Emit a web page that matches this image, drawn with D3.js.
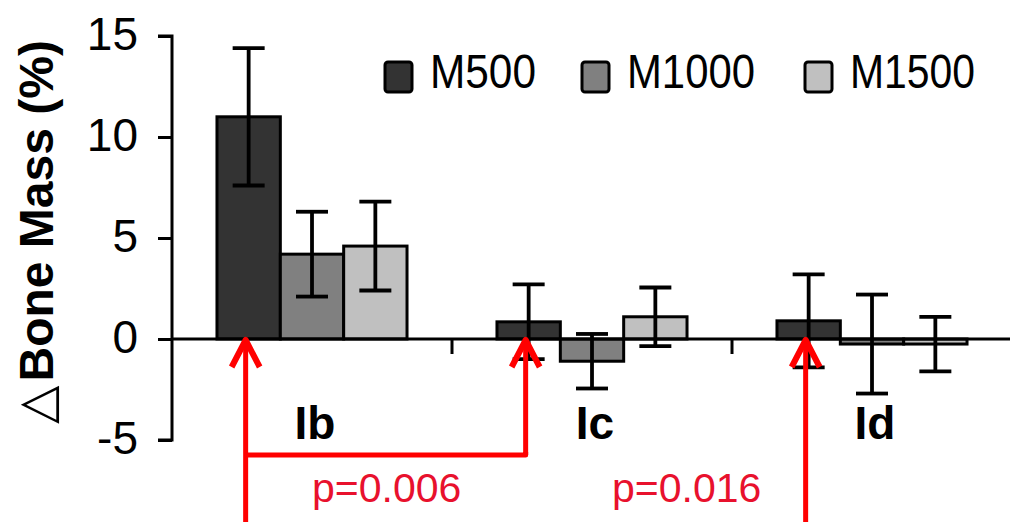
<!DOCTYPE html>
<html>
<head>
<meta charset="utf-8">
<script src="https://cdn.jsdelivr.net/npm/d3@7"></script>
<style>
  body { margin: 0; background: #fff; }
  svg { display: block; font-family: "Liberation Sans", Arial, sans-serif; }
</style>
</head>
<body>
<svg id="chart" width="1010" height="522"></svg>
<script>
// groups and series
var groups = ["Ib", "Ic", "Id"];
var series = ["M500", "M1000", "M1500"];
var colors = ["#333333", "#808080", "#c0c0c0"];

// mean change per group, one array per series
var m500  = [11.0, 0.85, 0.9];
var m1000 = [4.2, -1.1, -0.25];
var m1500 = [4.6, 1.1, -0.25];

// error bar half lengths
var e500  = [3.4, 1.85, 2.3];
var e1000 = [2.1, 1.35, 2.45];
var e1500 = [2.2, 1.45, 1.35];

var yTicks = [-5, 0, 5, 10, 15];
var yTickLabels = ["-5", "0", "5", "10", "15"];
var pLabels = ["p=0.006", "p=0.016"];

var svg = d3.select("#chart");

var y = d3.scaleLinear().domain([-5, 15]).range([440, 36]);
var x0 = d3.scaleBand().domain(groups).range([172, 1012]).padding(0);
var x1 = d3.scaleBand().domain(series).range([0, x0.bandwidth()])
  .paddingInner(0).paddingOuter(0.71);

var means = [m500, m1000, m1500];
var errs = [e500, e1000, e1500];
var rows = [];
groups.forEach(function(g, gi) {
  series.forEach(function(s, si) {
    rows.push({ group: g, series: s, color: colors[si], value: means[si][gi], err: errs[si][gi] });
  });
});

// bars
svg.selectAll(".bar")
  .data(rows)
  .enter().append("rect")
  .attr("class", "bar")
  .attr("x", function(d) { return x0(d.group) + x1(d.series); })
  .attr("width", x1.bandwidth())
  .attr("y", function(d) { return y(Math.max(0, d.value)); })
  .attr("height", function(d) { return Math.abs(y(d.value) - y(0)); })
  .attr("fill", function(d) { return d.color; })
  .attr("stroke", "#000")
  .attr("stroke-width", 3);

// error bars
var eb = svg.selectAll(".err")
  .data(rows)
  .enter().append("g")
  .attr("class", "err")
  .attr("stroke", "#000")
  .attr("stroke-width", 3.8)
  .attr("transform", function(d) { return "translate(" + (x0(d.group) + x1(d.series) + x1.bandwidth() / 2) + ",0)"; });
eb.append("line")
  .attr("y1", function(d) { return y(d.value - d.err); })
  .attr("y2", function(d) { return y(d.value + d.err); });
eb.append("line")
  .attr("x1", -16).attr("x2", 16)
  .attr("y1", function(d) { return y(d.value + d.err); })
  .attr("y2", function(d) { return y(d.value + d.err); });
eb.append("line")
  .attr("x1", -16).attr("x2", 16)
  .attr("y1", function(d) { return y(d.value - d.err); })
  .attr("y2", function(d) { return y(d.value - d.err); });

// y axis
var yAxis = svg.append("g")
  .attr("transform", "translate(172,0)")
  .call(d3.axisLeft(y).tickValues(yTicks)
    .tickFormat(function(d, i) { return yTickLabels[i]; })
    .tickSize(14).tickSizeOuter(14).tickPadding(20));
yAxis.select(".domain").attr("stroke-width", 3).attr("d", "M-14," + y(15) + "H0V" + y(-5) + "H-14");
yAxis.selectAll(".tick line").attr("stroke-width", 3);
yAxis.selectAll(".tick text")
  .attr("font-size", 46)
  .attr("fill", "#000")
  .attr("dy", 13)
  .attr("font-family", "'Liberation Sans', Arial, sans-serif");

// x axis at zero
var xAxis = svg.append("g")
  .attr("transform", "translate(0," + y(0) + ")");
xAxis.append("line")
  .attr("x1", 172).attr("x2", 1010)
  .attr("stroke", "#000").attr("stroke-width", 3);
xAxis.selectAll(".sep")
  .data(groups.slice(1))
  .enter().append("line")
  .attr("class", "sep")
  .attr("x1", function(d) { return x0(d); })
  .attr("x2", function(d) { return x0(d); })
  .attr("y1", 0).attr("y2", 15)
  .attr("stroke", "#000").attr("stroke-width", 3);

// category labels
svg.selectAll(".cat")
  .data(groups)
  .enter().append("text")
  .attr("class", "cat")
  .attr("x", function(d) { return x0(d) + x0.bandwidth() / 2 + 3; })
  .attr("y", 439)
  .attr("text-anchor", "middle")
  .attr("font-size", 46)
  .attr("font-weight", "bold")
  .text(function(d) { return d; });

// y title
var title = svg.append("text")
  .attr("transform", "translate(53,232) rotate(-90)")
  .attr("text-anchor", "middle")
  .attr("font-size", 48);
title.append("tspan")
  .attr("font-weight", "normal")
  .attr("font-size", 50)
  .attr("font-family", "'DejaVu Sans', sans-serif")
  .attr("dy", 0)
  .text("\u25B3");
title.append("tspan").attr("font-weight", "bold").attr("dx", 4).text("Bone Mass (%)");

// legend
var legX = [385, 582, 805];
var legW = [106, 128, 125];
var leg = svg.selectAll(".legend")
  .data(series)
  .enter().append("g")
  .attr("class", "legend")
  .attr("transform", function(d, i) { return "translate(" + legX[i] + ",62)"; });
leg.append("rect")
  .attr("width", 27).attr("height", 30).attr("rx", 3)
  .attr("fill", function(d, i) { return colors[i]; })
  .attr("stroke", "#000").attr("stroke-width", 3);
leg.append("text")
  .attr("x", 45).attr("y", 26)
  .attr("font-size", 48)
  .attr("textLength", function(d, i) { return legW[i]; })
  .attr("lengthAdjust", "spacingAndGlyphs")
  .text(function(d) { return d; });

// red comparison arrows
var arrowX = groups.map(function(g) { return x0(g) + x1("M500") + x1.bandwidth() / 2 - 3; });
var red = svg.append("g")
  .attr("stroke", "#ff0000").attr("stroke-width", 5)
  .attr("fill", "none").attr("stroke-linejoin", "round");
arrowX.forEach(function(ax, i) {
  var bottom = (i == 1) ? 455 : 522;
  red.append("line").attr("x1", ax).attr("x2", ax).attr("y1", bottom).attr("y2", y(0) + 2);
  red.append("path").attr("stroke-width", 6)
    .attr("d", "M" + (ax - 14) + "," + (y(0) + 28) + "L" + ax + "," + (y(0) + 1) + "L" + (ax + 14) + "," + (y(0) + 28));
});
red.append("path").attr("d", "M" + arrowX[0] + ",455H" + arrowX[1] + "V452");

svg.selectAll(".pval")
  .data(pLabels)
  .enter().append("text")
  .attr("class", "pval")
  .attr("x", function(d, i) { return (i == 0) ? 312 : 612; })
  .attr("y", 502)
  .attr("font-size", 41)
  .attr("fill", "#e8112d")
  .text(function(d) { return d; });
</script>
</body>
</html>
